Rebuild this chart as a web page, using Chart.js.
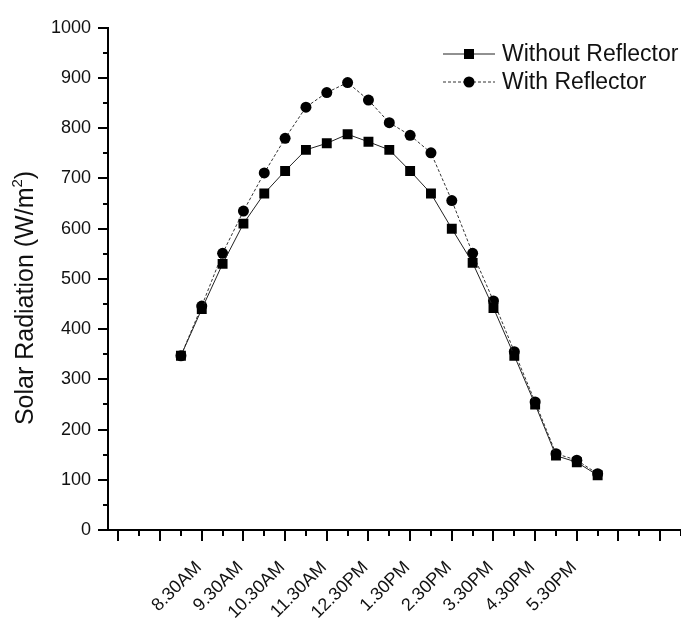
<!DOCTYPE html>
<html>
<head>
<meta charset="utf-8">
<script src="https://cdn.jsdelivr.net/npm/chart.js@4.4.1/dist/chart.umd.min.js"></script>
<style>
  body { margin: 0; background: #fff; }
  #wrap { width: 681px; height: 621px; }
</style>
</head>
<body>
<div id="wrap"><canvas id="myChart" width="681" height="621"></canvas></div>
<script>
// time of day in hours for each reading
var timeHours = [8, 8.5, 9, 9.5, 10, 10.5, 11, 11.5, 12, 12.5, 13, 13.5, 14, 14.5, 15, 15.5, 16, 16.5, 17, 17.5, 18];
var withoutReflector = [347, 440, 530, 610, 670, 715, 757, 770, 788, 773, 757, 715, 670, 600, 532, 442, 347, 250, 148, 135, 109];
var withReflector = [347, 446, 551, 635, 711, 780, 842, 871, 891, 856, 811, 786, 751, 656, 551, 456, 355, 255, 152, 139, 112];
var seriesNames = ["Without Reflector", "With Reflector"];

var tickHours = [8.5, 9.5, 10.5, 11.5, 12.5, 13.5, 14.5, 15.5, 16.5, 17.5];
var tickLabels = ["8.30AM", "9.30AM", "10.30AM", "11.30AM", "12.30PM", "1.30PM", "2.30PM", "3.30PM", "4.30PM", "5.30PM"];
var yTickValues = [0, 100, 200, 300, 400, 500, 600, 700, 800, 900, 1000];

var font = "'Liberation Sans', Arial, sans-serif";

function pts(ys) {
  return timeHours.map(function (h, i) { return { x: h, y: ys[i] }; });
}

// minor/major tick marks, y title, legend
var extras = {
  id: 'extras',
  afterDraw: function (chart) {
    var ctx = chart.ctx, xs = chart.scales.x, ys = chart.scales.y, area = chart.chartArea;
    ctx.save();
    ctx.strokeStyle = '#000';
    ctx.lineWidth = 2;
    xs.ticks.forEach(function (t) {
      var px = Math.round(xs.getPixelForValue(t.value));
      var len = (Math.abs(t.value % 1 - 0.5) < 0.01) ? 11 : 6;
      ctx.beginPath();
      ctx.moveTo(px, area.bottom);
      ctx.lineTo(px, area.bottom + len);
      ctx.stroke();
    });
    ys.ticks.forEach(function (t) {
      var py = Math.round(ys.getPixelForValue(t.value));
      var len = (t.value % 100 === 0) ? 10 : 5;
      ctx.beginPath();
      ctx.moveTo(area.left, py);
      ctx.lineTo(area.left - len, py);
      ctx.stroke();
    });

    // y axis title with superscript
    ctx.fillStyle = '#111';
    ctx.textBaseline = 'alphabetic';
    ctx.textAlign = 'left';
    var mainTxt = 'Solar Radiation (W/m';
    ctx.font = '25px ' + font;
    var w1 = ctx.measureText(mainTxt).width;
    var w3 = ctx.measureText(')').width;
    ctx.font = '15px ' + font;
    var w2 = ctx.measureText('2').width;
    var total = w1 + w2 + w3;
    ctx.translate(33, 298);
    ctx.rotate(-Math.PI / 2);
    var x0 = -total / 2;
    ctx.font = '25px ' + font;
    ctx.fillText(mainTxt, x0, 0);
    ctx.font = '15px ' + font;
    ctx.fillText('2', x0 + w1, -11);
    ctx.font = '25px ' + font;
    ctx.fillText(')', x0 + w1 + w2, 0);
    ctx.setTransform(1, 0, 0, 1, 0, 0);

    // legend
    var rows = [54, 82];
    chart.data.datasets.forEach(function (ds, i) {
      var y = rows[i];
      ctx.strokeStyle = ds.borderColor;
      ctx.lineWidth = 1;
      ctx.setLineDash(ds.borderDash || []);
      ctx.beginPath();
      ctx.moveTo(443, y);
      ctx.lineTo(495, y);
      ctx.stroke();
      ctx.setLineDash([]);
      ctx.fillStyle = '#000';
      if (ds.pointStyle === 'rect') {
        ctx.fillRect(464, y - 5, 10, 10);
      } else {
        ctx.beginPath();
        ctx.arc(469, y, 5.5, 0, Math.PI * 2);
        ctx.fill();
      }
      ctx.fillStyle = '#111';
      ctx.font = '23px ' + font;
      ctx.textBaseline = 'middle';
      ctx.fillText(ds.label, 502, y + 1);
    });
    ctx.restore();
  }
};

var chart = new Chart(document.getElementById('myChart'), {
  type: 'line',
  data: {
    datasets: [{
      label: seriesNames[0],
      data: pts(withoutReflector),
      borderColor: '#222',
      borderWidth: 1,
      backgroundColor: '#000',
      pointStyle: 'rect',
      pointRadius: 7,
      pointBorderWidth: 0,
      tension: 0
    }, {
      label: seriesNames[1],
      data: pts(withReflector),
      borderColor: '#333',
      borderWidth: 1,
      borderDash: [3, 2],
      backgroundColor: '#000',
      pointStyle: 'circle',
      pointRadius: 5.5,
      pointBorderWidth: 0,
      tension: 0
    }]
  },
  options: {
    responsive: false,
    animation: false,
    devicePixelRatio: 1,
    layout: { autoPadding: false, padding: { top: 24, right: 0, bottom: 0, left: 0 } },
    plugins: { legend: { display: false }, tooltip: { enabled: false } },
    scales: {
      x: {
        type: 'linear',
        min: 6.25,
        max: 20,
        grid: { display: false, drawTicks: false },
        border: { display: true, color: '#000', width: 2 },
        afterBuildTicks: function (axis) {
          var t = [];
          for (var v = 6.5; v <= 20; v += 0.5) t.push({ value: v });
          axis.ticks = t;
        },
        afterFit: function (axis) {
          axis.height = 91;
          axis.paddingLeft = 0;
          axis.paddingRight = 0;
        },
        ticks: {
          autoSkip: false,
          minRotation: 45,
          maxRotation: 45,
          padding: 27,
          labelOffset: -3,
          color: '#111',
          font: { family: font, size: 18 },
          callback: function (value) {
            var i = tickHours.indexOf(value);
            return i >= 0 ? tickLabels[i] : '';
          }
        }
      },
      y: {
        min: 0,
        max: 1000,
        grid: { display: false, drawTicks: false },
        border: { display: true, color: '#000', width: 2 },
        afterBuildTicks: function (axis) {
          var t = [];
          for (var v = 0; v <= 1000; v += 50) t.push({ value: v });
          axis.ticks = t;
        },
        afterFit: function (axis) { axis.width = 108; },
        ticks: {
          padding: 17,
          color: '#111',
          font: { family: font, size: 18 },
          callback: function (value) {
            return yTickValues.indexOf(value) >= 0 ? value : '';
          }
        }
      }
    }
  },
  plugins: [extras]
});
</script>
</body>
</html>
